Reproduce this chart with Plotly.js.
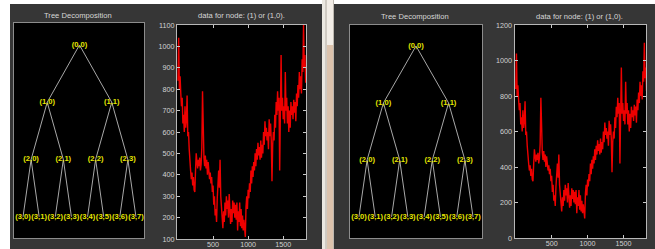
<!DOCTYPE html>
<html>
<head>
<meta charset="utf-8">
<script src="https://cdn.plot.ly/plotly-3.0.1.min.js"></script>
<style>html,body{margin:0;padding:0;background:#fff;}#chart{width:655px;height:249px;}</style>
</head>
<body>
<div id="chart"></div>
<script>
// ---- data ----
var treeTitle = 'Tree Decomposition';
var signalTitle = 'data for node: (1) or (1,0).';
var nodeDepth = [0, 1, 1, 2, 2, 2, 2, 3, 3, 3, 3, 3, 3, 3, 3];
var nodeIndex = [0, 0, 1, 0, 1, 2, 3, 0, 1, 2, 3, 4, 5, 6, 7];
var nodeLabels = ['(0,0)', '(1,0)', '(1,1)', '(2,0)', '(2,1)', '(2,2)', '(2,3)',
  '(3,0)', '(3,1)', '(3,2)', '(3,3)', '(3,4)', '(3,5)', '(3,6)', '(3,7)'];
var sampleStep = 10; // samples between plotted values
var signalValues = [
  840, 1040, 800, 860, 780, 720, 760, 640, 680, 600,
  720, 620, 660, 770, 580, 600, 520, 440, 420, 380,
  410, 350, 390, 330, 320, 420, 500, 460, 430, 470,
  440, 480, 420, 450, 530, 790, 560, 480, 440, 490,
  430, 470, 400, 460, 420, 380, 410, 360, 390, 320,
  350, 260, 300, 210, 240, 180, 290, 360, 420, 340,
  470, 300, 240, 190, 150, 230, 180, 270, 210, 300,
  240, 280, 200, 310, 230, 170, 240, 180, 280, 220,
  270, 200, 260, 190, 270, 140, 230, 180, 270, 160,
  240, 150, 210, 140, 190, 120, 110, 250, 300, 240,
  330, 290, 360, 320, 420, 360, 440, 390, 460, 420,
  500, 440, 520, 470, 550, 490, 530, 470, 560, 480,
  540, 500, 600, 540, 650, 580, 620, 560, 600, 520,
  660, 580, 640, 560, 370, 540, 600, 560, 680, 620,
  740, 680, 790, 700, 760, 420, 720, 960, 700, 760,
  660, 720, 640, 880, 700, 760, 640, 720, 600, 700,
  620, 740, 680, 720, 660, 750, 690, 740, 650, 780,
  720, 820, 760, 880, 800, 860, 780, 940, 880, 1100,
  900, 960, 830
];
var leftYTicks = [100, 200, 300, 400, 500, 600, 700, 800, 900, 1000, 1100];
var rightYTicks = [0, 200, 400, 600, 800, 1000, 1200];
var xTicks = [500, 1000, 1500];

// ---- derived ----
var W = 655, H = 249;
function px(x){ return x / W; }
function py(y){ return (H - y) / H; }

var nodeX = nodeDepth.map(function(d, k){ var w = Math.pow(2, 3 - d); return (nodeIndex[k] + 0.5) * w - 0.5; });
var edgeX = [], edgeY = [];
for (var k = 0; k < nodeLabels.length; k++) {
  for (var j = 0; j < nodeLabels.length; j++) {
    if (nodeDepth[j] === nodeDepth[k] + 1 && Math.floor(nodeIndex[j] / 2) === nodeIndex[k]) {
      edgeX.push(nodeX[k], nodeX[j], null);
      edgeY.push(nodeDepth[k], nodeDepth[j], null);
    }
  }
}
var sigX = signalValues.map(function(v, i){ return i * sampleStep; });

var DARK = '#363636';
var FONT = 'Liberation Sans, Arial, sans-serif';
var tickFont = {family: FONT, size: 7.2, color: '#d2d2d2'};
var nodeFont = {family: FONT, size: 7.6, color: '#e6e600', weight: 'bold'};

function treeTraces(xa, ya) {
  return [
    {type: 'scatter', mode: 'lines', x: edgeX, y: edgeY, xaxis: xa, yaxis: ya,
     line: {color: '#a8a8a8', width: 1}, hoverinfo: 'skip', showlegend: false},
    {type: 'scatter', mode: 'text', x: nodeX, y: nodeDepth, text: nodeLabels, xaxis: xa, yaxis: ya,
     textposition: 'middle center', textfont: nodeFont, hoverinfo: 'skip', showlegend: false}
  ];
}
function sigTrace(xa, ya) {
  return {type: 'scatter', mode: 'lines', x: sigX, y: signalValues, xaxis: xa, yaxis: ya,
    line: {color: '#ee0000', width: 1.4}, hoverinfo: 'skip', showlegend: false};
}

var data = [].concat(treeTraces('x', 'y'), [sigTrace('x2', 'y2')], treeTraces('x3', 'y3'), [sigTrace('x4', 'y4')]);

function treeAxis(dom, rng, anchor) {
  return {domain: dom, range: rng, anchor: anchor, showgrid: false, zeroline: false, showticklabels: false, ticks: '',
    showline: true, mirror: true, linecolor: '#8c8c8c', linewidth: 1, fixedrange: true};
}
function sigAxis(dom, rng, vals, anchor, standoff) {
  return {domain: dom, range: rng, anchor: anchor, tickvals: vals, ticktext: vals.map(String), showgrid: false, zeroline: false,
    ticks: 'inside', ticklen: 3, tickcolor: '#c8c8c8', showline: true, mirror: 'ticks', linecolor: '#b8b8b8',
    linewidth: 1, tickfont: tickFont, fixedrange: true, ticklabelstandoff: standoff};
}

var layout = {
  width: W, height: H,
  margin: {l: 0, r: 0, t: 0, b: 0, pad: 0},
  paper_bgcolor: DARK,
  plot_bgcolor: '#000000',
  showlegend: false,
  xaxis: treeAxis([px(14), px(144)], [-0.56, 7.5], 'y'),
  yaxis: treeAxis([py(238), py(23)], [3.37, -0.384], 'x'),
  xaxis2: sigAxis([px(177), px(306)], [-14, 1825], xTicks, 'y2', -2),
  yaxis2: sigAxis([py(239), py(25)], [100, 1100], leftYTicks, 'x2', 0),
  xaxis3: treeAxis([px(350), px(482)], [-0.55, 7.55], 'y3'),
  yaxis3: treeAxis([py(238), py(25)], [3.37, -0.368], 'x3'),
  xaxis4: sigAxis([px(514.5), px(646)], [-17, 1813], xTicks, 'y4', -2),
  yaxis4: sigAxis([py(238), py(25)], [0, 1200], rightYTicks, 'x4', 0),
  shapes: [
    {type: 'rect', xref: 'paper', yref: 'paper', x0: 0, x1: 1, y0: py(4), y1: 1, fillcolor: '#ffffff', line: {width: 0}, layer: 'below'},
    {type: 'rect', xref: 'paper', yref: 'paper', x0: 0, x1: px(10), y0: 0, y1: 1, fillcolor: '#ffffff', line: {width: 0}, layer: 'below'},
    {type: 'rect', xref: 'paper', yref: 'paper', x0: px(322), x1: px(325), y0: 0, y1: 1, fillcolor: '#ebe8e1', line: {width: 0}, layer: 'below'},
    {type: 'rect', xref: 'paper', yref: 'paper', x0: px(325), x1: px(327), y0: 0, y1: 1, fillcolor: '#cfcac2', line: {width: 0}, layer: 'below'},
    {type: 'rect', xref: 'paper', yref: 'paper', x0: px(327), x1: px(333), y0: 0, y1: py(45), fillcolor: '#dcc3ad', line: {width: 0}, layer: 'below'},
    {type: 'rect', xref: 'paper', yref: 'paper', x0: px(327), x1: px(333), y0: py(45), y1: 1, fillcolor: '#f2ede6', line: {width: 0}, layer: 'below'},
    {type: 'rect', xref: 'paper', yref: 'paper', x0: px(333), x1: px(334), y0: 0, y1: 1, fillcolor: '#bdb8b0', line: {width: 0}, layer: 'below'}
  ],
  annotations: [
    {xref: 'paper', yref: 'paper', x: px(78), y: py(15.5), text: treeTitle, showarrow: false, xanchor: 'center', yanchor: 'middle', font: {family: FONT, size: 7.6, color: '#d6d6d6'}},
    {xref: 'paper', yref: 'paper', x: px(241), y: py(15.5), text: signalTitle, showarrow: false, xanchor: 'center', yanchor: 'middle', font: {family: FONT, size: 7.6, color: '#d6d6d6'}},
    {xref: 'paper', yref: 'paper', x: px(415), y: py(16), text: treeTitle, showarrow: false, xanchor: 'center', yanchor: 'middle', font: {family: FONT, size: 7.6, color: '#d6d6d6'}},
    {xref: 'paper', yref: 'paper', x: px(579), y: py(16), text: signalTitle, showarrow: false, xanchor: 'center', yanchor: 'middle', font: {family: FONT, size: 7.6, color: '#d6d6d6'}}
  ]
};

Plotly.newPlot('chart', data, layout, {displayModeBar: false, staticPlot: true});
</script>
</body>
</html>
